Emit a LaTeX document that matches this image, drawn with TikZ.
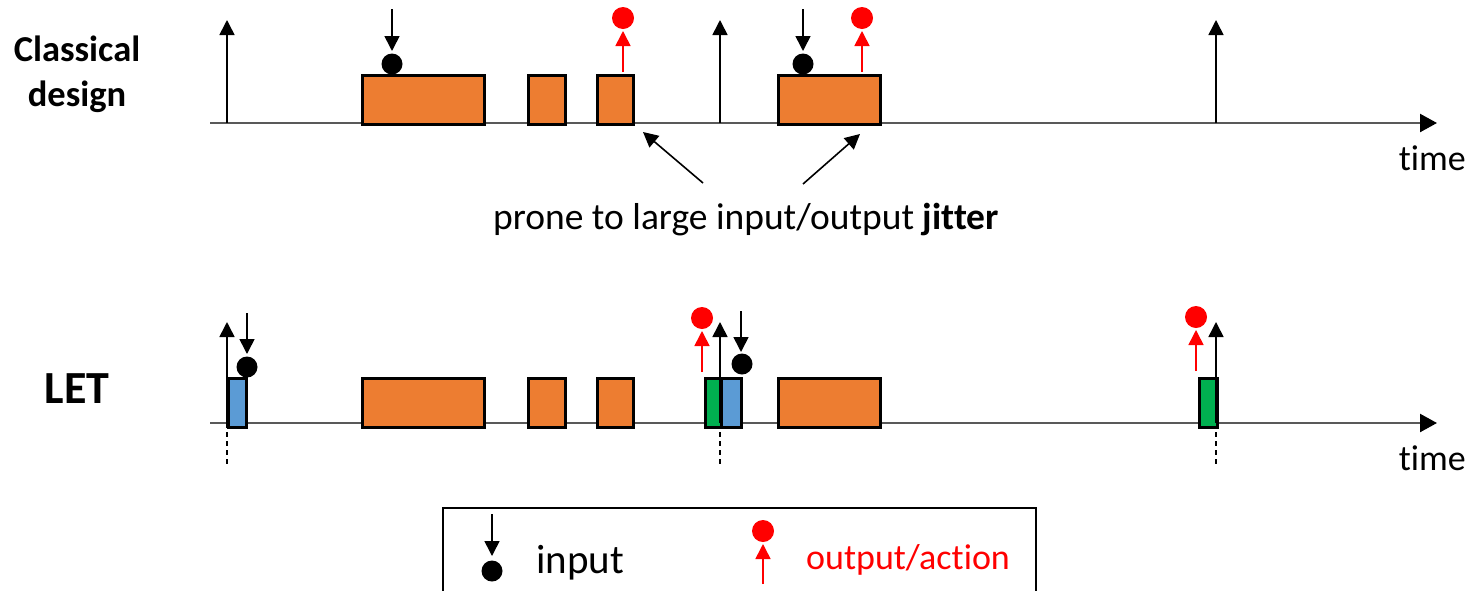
\documentclass[tikz,border=0pt]{standalone}
\usepackage{fontspec}
\setmainfont{Carlito}[Ligatures=NoCommon]
\usetikzlibrary{arrows.meta}
\definecolor{taskorange}{HTML}{ED7D31}
\definecolor{readblue}{HTML}{5B9BD5}
\definecolor{writegreen}{HTML}{00B050}
\definecolor{axisgray}{HTML}{595959}
\tikzset{
  axis/.style={draw=axisgray, line width=2.4pt, -{Triangle[length=17pt,width=18pt,color=black]}},
  period/.style={draw=black, line width=1.6pt, -{Triangle[length=15pt,width=15pt]}},
  inarrow/.style={draw=black, line width=1.6pt, -{Triangle[length=15pt,width=15pt]}},
  outarrow/.style={draw=red, line width=1.6pt, -{Triangle[length=15pt,width=15pt]}},
  indot/.style={circle, fill=black, inner sep=0pt, minimum size=21pt},
  outdot/.style={circle, fill=red, inner sep=0pt, minimum size=22pt},
  box/.style={draw=black, line width=2.6pt, inner sep=0pt, anchor=north west, minimum height=49pt},
  task/.style={box, fill=taskorange},
  readbox/.style={box, fill=readblue},
  writebox/.style={box, fill=writegreen},
  guide/.style={draw=black, line width=1.2pt, dash pattern=on 5pt off 4pt},
  pointer/.style={draw=black, line width=1.6pt, -{Triangle[length=15pt,width=15pt]}},
  lbl/.style={font=\fontsize{36}{44}\selectfont, inner sep=0pt},
}
\begin{document}
\begin{tikzpicture}[x=1pt,y=-1pt]
\useasboundingbox (0,0) rectangle (1468,590);

% ---------- classical design ----------
\node[lbl, font=\fontsize{36.5}{45}\selectfont\bfseries, align=center] (cd) at (77,74) {Classical\\design};

\coordinate (a0) at (210,123);
\coordinate (a1) at (1437,123);
\draw[axis] (a0) -- (a1);
\node[lbl, anchor=north east] (time1) at (1466,146) {time};

\coordinate (p1b) at (227,123); \coordinate (p1t) at (227,20);
\coordinate (p2b) at (720,123); \coordinate (p2t) at (720,20);
\coordinate (p3b) at (1216,123); \coordinate (p3t) at (1216,20);
\draw[period] (p1b) -- (p1t);
\draw[period] (p2b) -- (p2t);
\draw[period] (p3b) -- (p3t);

\node[task, minimum width=122pt] (c1) at (361,74) {};
\node[task, minimum width=37pt] (c2) at (527,74) {};
\node[task, minimum width=36pt] (c3) at (596,74) {};
\node[task, minimum width=102pt] (c4) at (777,74) {};

% inputs
\coordinate (ci1) at (392,9);
\node[indot] (cd1) at (392,64) {};
\draw[inarrow] (ci1) -- (392,51);
\coordinate (ci2) at (803,9);
\node[indot] (cd2) at (803,64) {};
\draw[inarrow] (ci2) -- (803,51);

% outputs
\node[outdot] (co1) at (623,18) {};
\draw[outarrow] (c3.north -| co1) ++(0,-2) -- (623,31);
\node[outdot] (co2) at (862,18) {};
\draw[outarrow] (c4.north -| co2) ++(0,-2) -- (862,31);

% jitter remark
\node[lbl, font=\fontsize{37.5}{44}\selectfont, anchor=base] (jit) at (746,229) {prone to large input/output \textbf{jitter}};
\coordinate (j1) at (703,183);
\coordinate (j2) at (803,184);
\coordinate (j1t) at (643,132);
\coordinate (j2t) at (860,134);
\draw[pointer] (j1) -- (j1t);
\draw[pointer] (j2) -- (j2t);

% ---------- LET ----------
\node[lbl, font=\fontsize{46}{50}\selectfont\bfseries] (let) at (77,389) {LET};

\coordinate (b0) at (210,423);
\coordinate (b1) at (1437,423);
\draw[axis] (b0) -- (b1);
\node[lbl, anchor=north east] (time2) at (1466,446) {time};

\coordinate (q1b) at (227,423); \coordinate (q1t) at (227,322);
\coordinate (q2b) at (720,423); \coordinate (q2t) at (720,322);
\coordinate (q3b) at (1216,423); \coordinate (q3t) at (1216,322);
\coordinate (q1d) at (227,466);
\coordinate (q2d) at (720,466);
\coordinate (q3d) at (1216,466);
\draw[guide] (q1b) -- (q1d);
\draw[guide] (q2b) -- (q2d);
\draw[guide] (q3b) -- (q3d);

\node[readbox, minimum width=18pt] (r1) at (227,377) {};
\node[task, minimum width=122pt] (l1) at (361,377) {};
\node[task, minimum width=37pt] (l2) at (527,377) {};
\node[task, minimum width=36pt] (l3) at (596,377) {};
\node[writebox, minimum width=16pt] (w1) at (704,377) {};
\node[readbox, minimum width=20pt] (r2) at (720,377) {};
\node[task, minimum width=102pt] (l4) at (777,377) {};
\node[writebox, minimum width=18pt] (w2) at (1198,377) {};

\draw[period] (q1b) -- (q1t);
\draw[period] (q2b) -- (q2t);
\draw[period] (q3b) -- (q3t);

% inputs
\coordinate (li1) at (247,313);
\node[indot] (ld1) at (247,367) {};
\draw[inarrow] (li1) -- (247,354);
\coordinate (li2) at (741,311);
\node[indot] (ld2) at (742,364) {};
\draw[inarrow] (li2) -- (741,352);

% outputs
\coordinate (lo1b) at (702,372);
\node[outdot] (lo1) at (702,318) {};
\draw[outarrow] (lo1b) -- (702,331);
\coordinate (lo2b) at (1196,371);
\node[outdot] (lo2) at (1196,317) {};
\draw[outarrow] (lo2b) -- (1196,330);

% ---------- legend ----------
\draw[draw=black, line width=2.6pt] (443,592) |- (1036,508) -- (1036,592);
\coordinate (gi) at (492,514);
\node[indot] (gd) at (492,571) {};
\draw[inarrow] (gi) -- (492,556);
\node[lbl, font=\fontsize{41}{46}\selectfont, anchor=base west] (gin) at (536,573) {input};
\coordinate (go) at (763,584);
\node[outdot] (god) at (763,531) {};
\draw[outarrow] (go) -- (763,544);
\node[lbl, anchor=base west, text=red] (gout) at (806,569) {output/action};
\end{tikzpicture}
\end{document}
